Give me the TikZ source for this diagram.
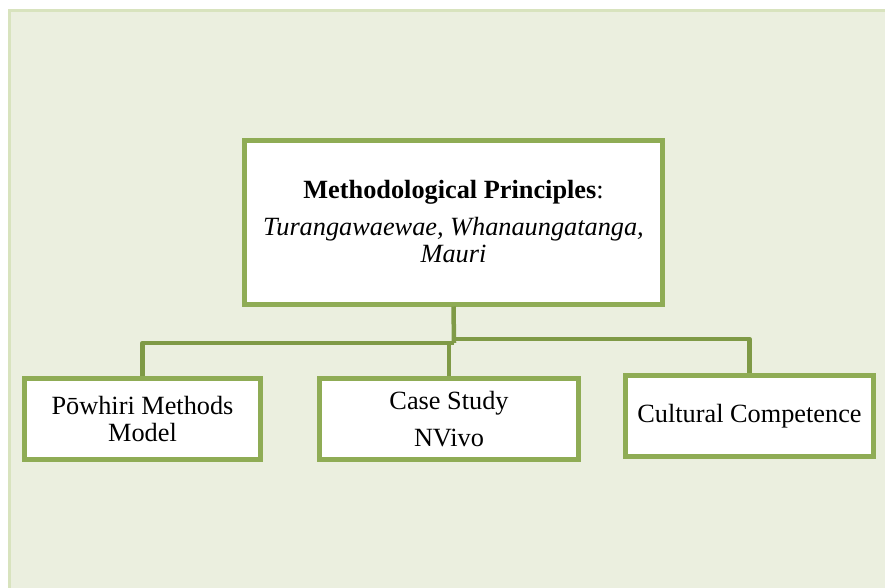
\documentclass[tikz,border=0pt]{standalone}
\usepackage{fontspec}
\setmainfont{Liberation Serif}
\definecolor{boxgreen}{HTML}{8FAC55}
\definecolor{linkgreen}{HTML}{7F9A46}
\definecolor{panelfill}{HTML}{EBEFDF}
\definecolor{panelline}{HTML}{D8E3BE}
\begin{document}
\begin{tikzpicture}[
  x=1pt, y=-1pt,
  box/.style={
    draw=boxgreen,
    line width=5pt,
    fill=white,
    align=center,
    inner sep=0pt,
    minimum height=81pt,
    font=\fontsize{26.3}{27}\selectfont
  },
  link/.style={draw=linkgreen, line width=4.5pt, line join=round}
]
\useasboundingbox (0,0) rectangle (885,587);
\draw[panelline, fill=panelfill, line width=3pt] (9.5,10) rectangle (900,600);

\node[box, minimum width=418pt, minimum height=164pt] (principles) at (453.5,222)
  {\textbf{Methodological Principles}:\\[10pt]\textit{Turangawaewae, Whanaungatanga,}\\\textit{Mauri}};
\node[box, minimum width=236pt] (powhiri) at (142.5,419) {Pōwhiri Methods\\Model};
\node[box, minimum width=259pt] (casestudy) at (449,419) {Case Study\\[10pt]NVivo};
\node[box, minimum width=248pt] (culture) at (749.5,416) {Cultural Competence};

\coordinate (hubL) at (454,343);
\coordinate (hubR) at (454,339);

\draw[link] (principles.south) -- (hubL);
\draw[link] (hubL) -| (powhiri.north);
\draw[link] (hubR) -| (culture.north);
\draw[link] (casestudy.north) -- (casestudy.north |- hubL);
\end{tikzpicture}
\end{document}
